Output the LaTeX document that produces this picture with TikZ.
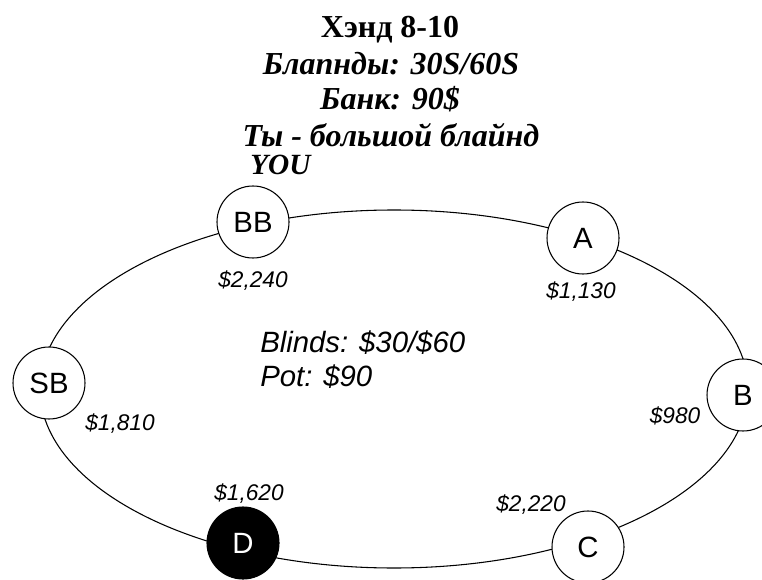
\documentclass[tikz,border=0pt]{standalone}
\usepackage{fontspec}
\setmainfont{Liberation Serif}
\setsansfont{Liberation Sans}
\usetikzlibrary{positioning}

\tikzset{
	seat/.style={circle, draw, line width=0.8pt, fill=white, minimum size=54pt, inner sep=0pt, font=\sffamily\fontsize{22}{22}\selectfont},
	stack/.style={anchor=base, font=\sffamily\itshape\fontsize{17}{17}\selectfont},
	heading/.style={anchor=base, font=\bfseries\itshape\fontsize{24}{24}\selectfont},
}

\begin{document}
\begin{tikzpicture}[x=0.75pt, y=-0.75pt]
		\useasboundingbox (0,0) rectangle (762,580);

		% title lines
		\node[heading, font=\bfseries\fontsize{24}{24}\selectfont] (t-1) at (390,38) {Хэнд 8-10};
		\node[heading] (t-2) at (391,75) {Блапнды: 30S/60S};
		\node[heading] (t-3) at (390,110) {Банк: 90\$};
		\node[heading] (t-4) at (391,147) {Ты - большой блайнд};

		% table
		\draw[line width=0.8pt] (394,389) ellipse (354 and 179);

		\begin{scope}
			\node[seat] (s-BB) at (253,222) {BB};
			\node[seat] (s-A) at (583,238) {A};
			\node[seat] (s-B) at (743,395) {B};
			\node[seat] (s-C) at (588,547) {C};
			\node[seat, fill=black, text=white] (s-D) at (243,543) {D};
			\node[seat] (s-SB) at (49,383) {SB};
		\end{scope}

		\node[anchor=base west, font=\bfseries\itshape\fontsize{22}{22}\selectfont, inner sep=0pt] (you) at (250,175) {YOU};

		\node[stack] (m-BB) at (253,288) {\$2,240};
		\node[stack] (m-A) at (581,299) {\$1,130};
		\node[stack] (m-B) at (675,423) {\$980};
		\node[stack] (m-C) at (531,511) {\$2,220};
		\node[stack] (m-D) at (249,500) {\$1,620};
		\node[stack] (m-SB) at (120,430) {\$1,810};

		\node[anchor=base west, inner sep=0pt, font=\sffamily\itshape\fontsize{22}{22}\selectfont] (blinds) at (260,352) {Blinds: \$30/\$60};
		\node[anchor=base west, inner sep=0pt, font=\sffamily\itshape\fontsize{22}{22}\selectfont] (pot) at (260,386) {Pot: \$90};
	\end{tikzpicture}
\end{document}
